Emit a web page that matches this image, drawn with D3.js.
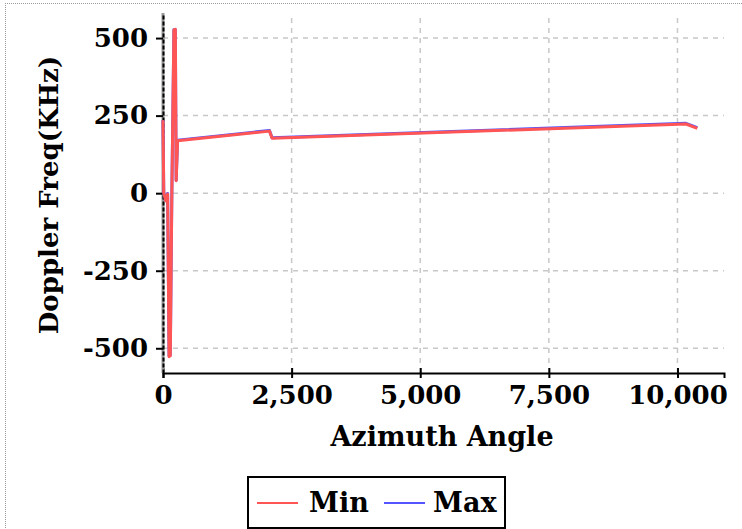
<!DOCTYPE html>
<html>
<head>
<meta charset="utf-8">
<script src="https://cdn.jsdelivr.net/npm/d3@7"></script>
<style>
  html, body { margin: 0; padding: 0; background: #fff; overflow: hidden; }
  svg { display: block; }
  text { font-family: "DejaVu Serif", serif; font-weight: bold; fill: #000; }
</style>
</head>
<body>
<script>
// ---- data ----
const azimuth = [0, 15, 55, 90, 118, 142, 172, 212, 240, 256, 283, 2070, 2120, 10165, 10385];
const minFreq = [235, 0, -25, -3, -527, -524, 0, 526, 528, 40, 169, 200, 177, 223, 209];
const maxFreq = [236, 2, -23, -1, -525, -522, 2, 527, 527, 42, 171, 202, 179, 225, 211];
const xTicks = [0, 2500, 5000, 7500, 10000];
const yTicks = [-500, -250, 0, 250, 500];
const seriesNames = ["Min", "Max"];
const seriesColors = ["#ff5555", "#5555ff"];

const W = 742, H = 529;
const margin = { left: 163, right: 18, top: 13, bottom: 156 };

const svg = d3.select("body").append("svg").attr("width", W).attr("height", H);

// dotted page border (top & left)
svg.append("line").attr("x1", 5).attr("x2", W).attr("y1", 3.5).attr("y2", 3.5)
  .attr("stroke", "#999").attr("stroke-width", 1).attr("stroke-dasharray", "1,1");
svg.append("line").attr("x1", 5.5).attr("x2", 5.5).attr("y1", 3).attr("y2", H)
  .attr("stroke", "#999").attr("stroke-width", 1).attr("stroke-dasharray", "1,1");

const allVals = minFreq.concat(maxFreq);
const x = d3.scaleLinear()
  .domain([0, d3.max(azimuth) * 1.05])
  .range([margin.left, W - margin.right]);
const y = d3.scaleLinear()
  .domain([d3.min(allVals) * 1.1, d3.max(allVals) * 1.1])
  .range([H - margin.bottom, margin.top]);

// grid
const grid = svg.append("g");
grid.selectAll(".hg").data(yTicks).join("line")
  .attr("x1", x.range()[0]).attr("x2", x.range()[1])
  .attr("y1", d => y(d)).attr("y2", d => y(d))
  .attr("stroke", "#c8c8c8").attr("stroke-width", 1.5).attr("stroke-dasharray", "5,5");
grid.selectAll(".vg").data(xTicks.filter(d => d !== 0)).join("line")
  .attr("x1", d => x(d)).attr("x2", d => x(d))
  .attr("y1", y.range()[0]).attr("y2", y.range()[1])
  .attr("stroke", "#c8c8c8").attr("stroke-width", 1.5).attr("stroke-dasharray", "5,5");

// x axis
const xAxis = svg.append("g")
  .attr("transform", `translate(0,${y.range()[0]})`)
  .call(d3.axisBottom(x).tickValues(xTicks).tickFormat(d3.format(",")).tickSizeInner(5).tickSizeOuter(5).tickPadding(8));
xAxis.select(".domain").attr("stroke", "#000").attr("stroke-width", 2);
xAxis.selectAll(".tick line").attr("stroke", "#000").attr("stroke-width", 2).attr("y1", -5);
xAxis.selectAll(".tick text").attr("font-size", 26).attr("font-family", "DejaVu Serif").attr("font-weight", "bold");

// y axis
const yAxisG = svg.append("g").attr("transform", `translate(${x.range()[0]},0)`);
yAxisG.append("line").attr("y1", y.range()[0]).attr("y2", y.range()[1])
  .attr("stroke", "#999").attr("stroke-width", 3);
yAxisG.call(d3.axisLeft(y).tickValues(yTicks).tickFormat(d => String(d)).tickSizeInner(7).tickSizeOuter(0).tickPadding(8));
yAxisG.select(".domain").attr("stroke", "#000").attr("stroke-width", 2).attr("stroke-dasharray", "4,2");
yAxisG.selectAll(".tick line").attr("stroke", "#000").attr("stroke-width", 2);
yAxisG.selectAll(".tick text").attr("font-size", 26).attr("font-family", "DejaVu Serif").attr("font-weight", "bold");

// lines (Max drawn first, Min on top)
const line = vals => d3.line().x((d, i) => x(azimuth[i])).y(d => y(d))(vals);
svg.append("path").attr("d", line(maxFreq)).attr("fill", "none")
  .attr("stroke", seriesColors[1]).attr("stroke-width", 3).attr("stroke-linejoin", "round");
svg.append("path").attr("d", line(minFreq)).attr("fill", "none")
  .attr("stroke", seriesColors[0]).attr("stroke-width", 3).attr("stroke-linejoin", "round");

// axis titles
svg.append("text").attr("x", 442).attr("y", 446)
  .attr("text-anchor", "middle").attr("font-size", 27).text("Azimuth Angle");
svg.append("text").attr("transform", `translate(58,${(57 + 333) / 2}) rotate(-90)`)
  .attr("text-anchor", "middle").attr("font-size", 26).text("Doppler Freq(KHz)");

// legend
const lg = svg.append("g");
lg.append("rect").attr("x", 248).attr("y", 477).attr("width", 257).attr("height", 51)
  .attr("fill", "#fff").attr("stroke", "#000").attr("stroke-width", 2);
const items = [{ x1: 257, tx: 309 }, { x1: 384, tx: 433 }];
seriesNames.forEach((n, i) => {
  lg.append("line").attr("x1", items[i].x1).attr("x2", items[i].x1 + 41)
    .attr("y1", 503).attr("y2", 503).attr("stroke", seriesColors[i]).attr("stroke-width", 2);
  lg.append("text").attr("x", items[i].tx).attr("y", 512).attr("font-size", 27).text(n);
});
</script>
</body>
</html>
